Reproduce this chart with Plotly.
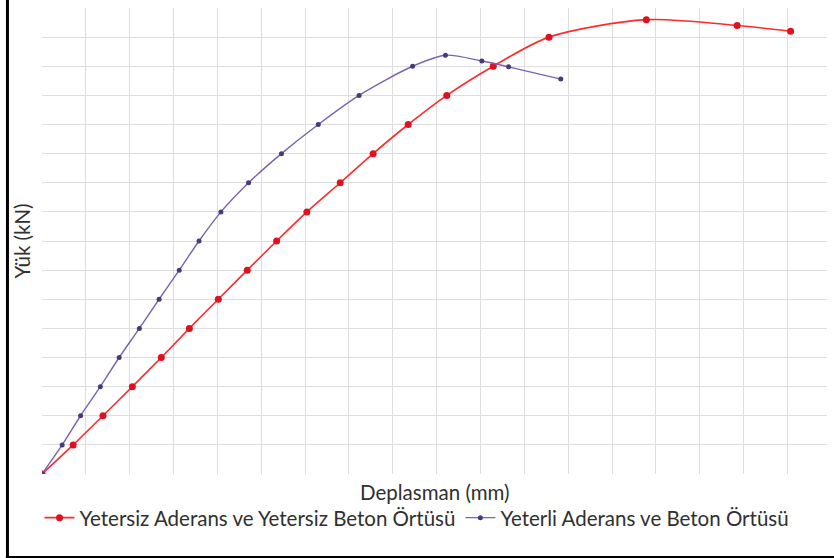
import plotly.graph_objects as go

# Load–displacement curves (displacement in mm, load in kN)
x_weak = [0.0, 0.71, 1.39, 2.06, 2.72, 3.36, 4.02, 4.68, 5.35, 6.04, 6.80,
          7.55, 8.35, 9.23, 10.29, 11.56, 13.78, 15.85, 17.07]
y_weak = [0, 10, 20, 30, 40, 50, 60, 70, 80, 90, 100,
          110, 120, 130, 140, 150, 156, 154, 152]

x_good = [0.0, 0.46, 0.88, 1.33, 1.76, 2.22, 2.67, 3.13, 3.58, 4.08, 4.71,
          5.46, 6.30, 7.23, 8.45, 9.20, 10.03, 10.64, 11.83]
y_good = [0, 10, 20, 30, 40, 50, 60, 70, 80, 90, 100,
          110, 120, 130, 140, 143.8, 141.8, 139.8, 135.6]

name_weak = "Yetersiz Aderans ve Yetersiz Beton Örtüsü"
name_good = "Yeterli Aderans ve Beton Örtüsü"

FONT = "Lato"
TXT = "#303030"
FS = 20.5

fig = go.Figure()
fig.add_trace(go.Scatter(
    x=x_weak, y=y_weak, name=name_weak, mode="lines+markers",
    line=dict(color="#ff2a2a", width=1.6, shape="spline", smoothing=0.8),
    marker=dict(color="#e01020", size=7, symbol="circle"),
))
fig.add_trace(go.Scatter(
    x=x_good, y=y_good, name=name_good, mode="lines+markers",
    line=dict(color="#7a62b0", width=1.4, shape="spline", smoothing=0.8),
    marker=dict(color="#463a7a", size=5, symbol="circle"),
))

grid = "#dedede"
fig.update_xaxes(range=[0, 17.9], dtick=1, showticklabels=False,
                 showgrid=True, gridcolor=grid, gridwidth=1,
                 zeroline=False, showline=False, ticks="")
fig.update_yaxes(range=[0, 160], dtick=10, showticklabels=False,
                 showgrid=True, gridcolor=grid, gridwidth=1,
                 zeroline=False, showline=False, ticks="")

fig.update_layout(
    width=834, height=558,
    margin=dict(l=42, r=7, t=8, b=84),
    paper_bgcolor="white", plot_bgcolor="white",
    font=dict(family=FONT, size=FS, color=TXT),
    showlegend=True,
    legend=dict(orientation="h", xref="container", yref="container",
                x=0.5, xanchor="center", y=0.072, yanchor="middle",
                font=dict(family=FONT, size=FS, color=TXT),
                itemwidth=30, tracegroupgap=0),
    annotations=[
        dict(text="Deplasman (mm)", xref="paper", yref="paper",
             x=0.5, y=-0.038, xanchor="center", yanchor="middle",
             showarrow=False, font=dict(family=FONT, size=FS, color=TXT)),
        dict(text="Yük (kN)", xref="paper", yref="paper",
             x=-0.026, y=0.5, xanchor="center", yanchor="middle", textangle=-90,
             showarrow=False, font=dict(family=FONT, size=FS, color=TXT)),
    ],
    shapes=[
        # outer frame: left and bottom edges
        dict(type="line", xref="paper", yref="paper",
             x0=-0.044, x1=-0.044, y0=-0.19, y1=1.02,
             line=dict(color="black", width=3)),
        dict(type="line", xref="paper", yref="paper",
             x0=-0.046, x1=1.01, y0=-0.179, y1=-0.179,
             line=dict(color="black", width=3)),
    ],
)

fig.write_html("out.html")
